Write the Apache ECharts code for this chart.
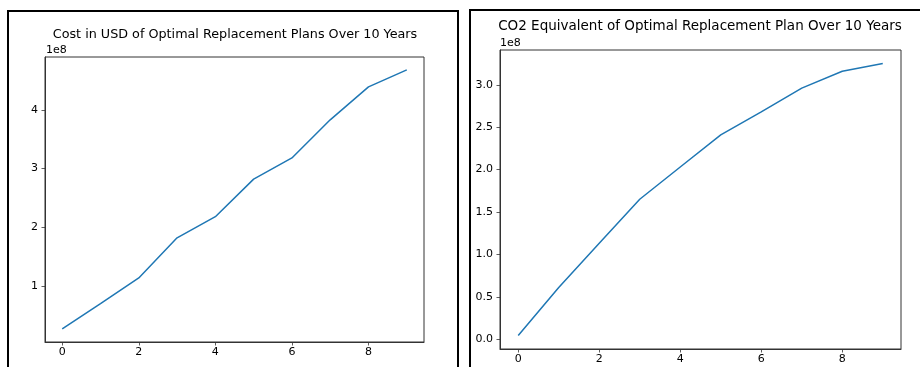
<!DOCTYPE html>
<html>
<head>
<meta charset="utf-8">
<script src="https://cdn.jsdelivr.net/npm/echarts@6/dist/echarts.min.js"></script>
<style>
  html, body { margin: 0; padding: 0; background: #fff; }
  #chart { width: 920px; height: 367px; }
</style>
</head>
<body>
<div id="chart"></div>
<script>
// Years of the replacement plan
const years = [0, 1, 2, 3, 4, 5, 6, 7, 8, 9];
// Cumulative cost in USD
const costUSD = [0.267e8, 0.70e8, 1.136e8, 1.82e8, 2.18e8, 2.82e8, 3.18e8, 3.83e8, 4.39e8, 4.68e8];
// Cumulative CO2 equivalent
const co2Eq = [0.044e8, 0.61e8, 1.13e8, 1.65e8, 2.03e8, 2.41e8, 2.68e8, 2.96e8, 3.16e8, 3.25e8];
// Tick positions
const xTicks = [0, 2, 4, 6, 8];
const costTicks = [1e8, 2e8, 3e8, 4e8];
const co2Ticks = [0, 0.5e8, 1.0e8, 1.5e8, 2.0e8, 2.5e8, 3.0e8];

const FONT = 'DejaVu Sans';
const INK = '#000';
const LINE = '#1f77b4';

function xAxis(gridIndex) {
  return {
    type: 'value', gridIndex,
    min: -0.45, max: 9.45,
    axisLine: { show: true, onZero: false, lineStyle: { color: '#333', width: 1 } },
    axisTick: { show: true, customValues: xTicks, length: 3.5, lineStyle: { color: '#333', width: 0.8 } },
    axisLabel: { customValues: xTicks, margin: 5, fontFamily: FONT, fontSize: 11, color: INK },
    splitLine: { show: false }
  };
}

function yAxis(gridIndex, min, max, ticks, digits) {
  return {
    type: 'value', gridIndex, min, max,
    axisLine: { show: true, onZero: false, lineStyle: { color: '#333', width: 1 } },
    axisTick: { show: true, customValues: ticks, length: 3.5, lineStyle: { color: '#333', width: 0.8 } },
    axisLabel: {
      customValues: ticks, margin: 7, fontFamily: FONT, fontSize: 11, color: INK,
      formatter: v => (v / 1e8).toFixed(digits)
    },
    splitLine: { show: false }
  };
}

function pairs(xs, ys) { return xs.map((x, i) => [x, ys[i]]); }

const chart = echarts.init(document.getElementById('chart'), null, { renderer: 'canvas' });
chart.setOption({
  animation: false,
  backgroundColor: '#fff',
  title: [
    { text: 'Cost in USD of Optimal Replacement Plans Over 10 Years', left: 230, top: 23, textAlign: 'center',
      textStyle: { fontFamily: FONT, fontSize: 12.75, fontWeight: 'normal', color: INK } },
    { text: 'CO2 Equivalent of Optimal Replacement Plan Over 10 Years', left: 695, top: 14, textAlign: 'center',
      textStyle: { fontFamily: FONT, fontSize: 13.5, fontWeight: 'normal', color: INK } }
  ],
  grid: [
    { left: 45, top: 57, width: 379, height: 285, show: true, borderColor: '#333', borderWidth: 1, backgroundColor: 'transparent' },
    { left: 500, top: 50, width: 401, height: 299, show: true, borderColor: '#333', borderWidth: 1, backgroundColor: 'transparent' }
  ],
  xAxis: [xAxis(0), xAxis(1)],
  yAxis: [
    yAxis(0, 0.045e8, 4.90e8, costTicks, 0),
    yAxis(1, -0.116e8, 3.41e8, co2Ticks, 1)
  ],
  series: [
    { type: 'line', xAxisIndex: 0, yAxisIndex: 0, data: pairs(years, costUSD), showSymbol: false,
      lineStyle: { color: LINE, width: 1.5 } },
    { type: 'line', xAxisIndex: 1, yAxisIndex: 1, data: pairs(years, co2Eq), showSymbol: false,
      lineStyle: { color: LINE, width: 1.5 } }
  ],
  graphic: [
    { type: 'rect', shape: { x: 8, y: 11, width: 450, height: 400 }, style: { fill: 'none', stroke: '#000', lineWidth: 2 } },
    { type: 'rect', shape: { x: 470, y: 10, width: 500, height: 400 }, style: { fill: 'none', stroke: '#000', lineWidth: 2 } },
    { type: 'text', left: 46, top: 45, style: { text: '1e8', font: '11px "DejaVu Sans"', fill: INK } },
    { type: 'text', left: 500, top: 38, style: { text: '1e8', font: '11px "DejaVu Sans"', fill: INK } }
  ]
});
</script>
</body>
</html>
